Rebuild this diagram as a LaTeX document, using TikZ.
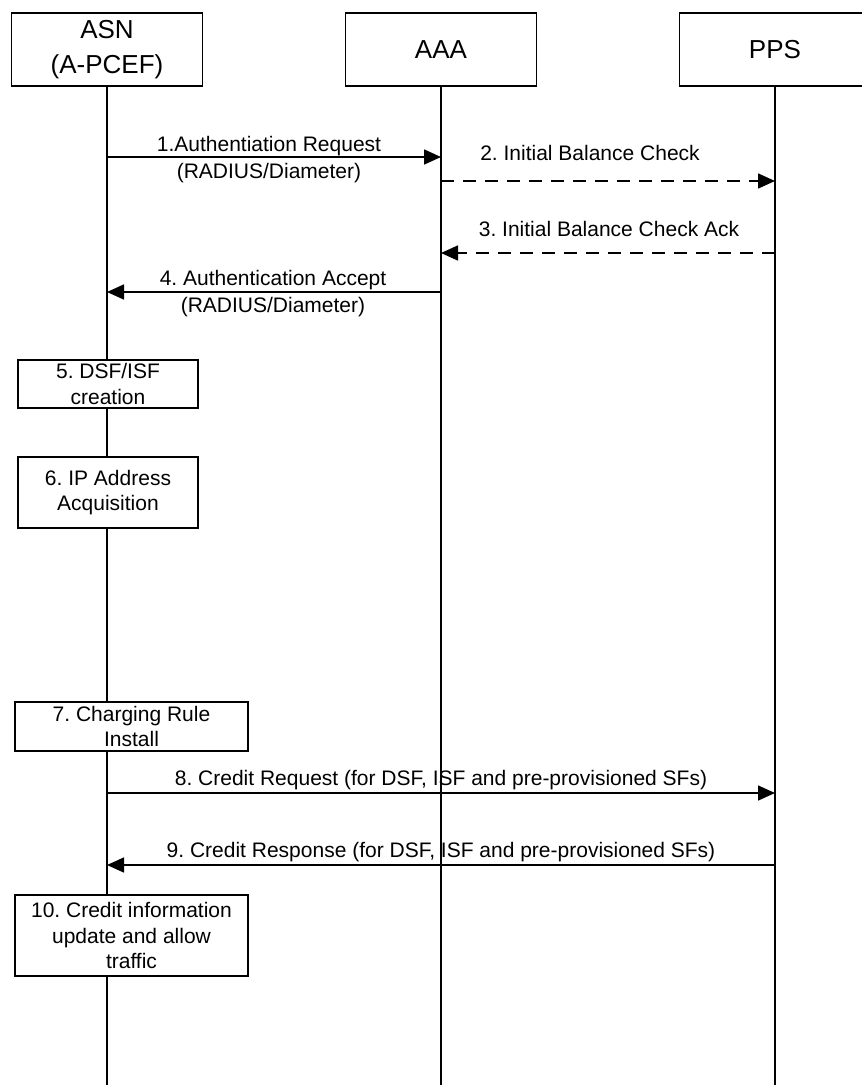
\documentclass[tikz,border=0pt]{standalone}
\usepackage{fontspec}
\setmainfont{Liberation Sans}
\usetikzlibrary{arrows.meta}
\frenchspacing
\begin{document}
\begin{tikzpicture}[x=1pt,y=-1pt,
  head/.style={draw, line width=1.6pt, fill=white, minimum width=191pt, minimum height=73pt, inner sep=0pt, align=center, font=\fontsize{26}{35}\selectfont},
  lifeline/.style={line width=1.3pt},
  stepbox/.style={draw, line width=1.6pt, fill=white, inner sep=0pt, align=center, font=\fontsize{21}{25.5}\selectfont},
  msg/.style={line width=1.6pt, -{Triangle[length=17pt,width=15pt]}},
  reply/.style={msg, dash pattern=on 13pt off 9pt},
  lbl/.style={align=center, inner sep=0pt, font=\fontsize{21}{27}\selectfont}]
\useasboundingbox (0,0) rectangle (862,1085);
\clip (0,0) rectangle (862,1085);
% headers
\node[head] (asn) at (107,49.5) {ASN\\(A-PCEF)};
\node[head] (aaa) at (441,49.5) {AAA};
\node[head] (pps) at (775,49.5) {PPS};
% lifelines
\coordinate (asnEnd) at (107,1085);
\coordinate (aaaEnd) at (441,1085);
\coordinate (ppsEnd) at (775,1085);
\draw[lifeline] (asn.south) -- (asnEnd);
\draw[lifeline] (aaa.south) -- (aaaEnd);
\draw[lifeline] (pps.south) -- (ppsEnd);
% local steps
\node[stepbox, minimum width=180pt, minimum height=48pt] (s5) at (108,384) {5. DSF/ISF\\creation};
\node[stepbox, minimum width=180pt, minimum height=71pt] (s6) at (108,492.5) {6. IP Address\\Acquisition};
\node[stepbox, minimum width=233pt, minimum height=49pt] (s7) at (131.5,726.5) {7. Charging Rule\\Install};
\node[stepbox, minimum width=233pt, minimum height=81pt] (s10) at (131.5,935.5) {10. Credit information\\update and allow\\traffic};
% message end points
\coordinate (m1a) at (107,157); \coordinate (m1b) at (441,157);
\coordinate (m2a) at (441,181); \coordinate (m2b) at (775,181);
\coordinate (m3a) at (775,253); \coordinate (m3b) at (441,253);
\coordinate (m4a) at (441,292); \coordinate (m4b) at (107,292);
\coordinate (m8a) at (107,793); \coordinate (m8b) at (775,793);
\coordinate (m9a) at (775,865); \coordinate (m9b) at (107,865);
% messages
\draw[msg] (m1a) -- (m1b);
\draw[reply] (m2a) -- (m2b);
\draw[reply] (m3a) -- (m3b);
\draw[msg] (m4a) -- (m4b);
\draw[msg] (m8a) -- (m8b);
\draw[msg] (m9a) -- (m9b);
% labels
\node[lbl] (l1) at (269,160) {1.Authentiation Request\\(RADIUS/Diameter)};
\node[lbl] (l2) at (590,153) {2. Initial Balance Check};
\node[lbl] (l3) at (609,229) {3. Initial Balance Check Ack};
\node[lbl] (l4) at (273,294) {4. Authentication Accept\\(RADIUS/Diameter)};
\node[lbl] (l8) at (441,780) {8. Credit Request (for DSF, ISF and pre-provisioned SFs)};
\node[lbl] (l9) at (441,852) {9. Credit Response (for DSF, ISF and pre-provisioned SFs)};
\end{tikzpicture}
\end{document}
